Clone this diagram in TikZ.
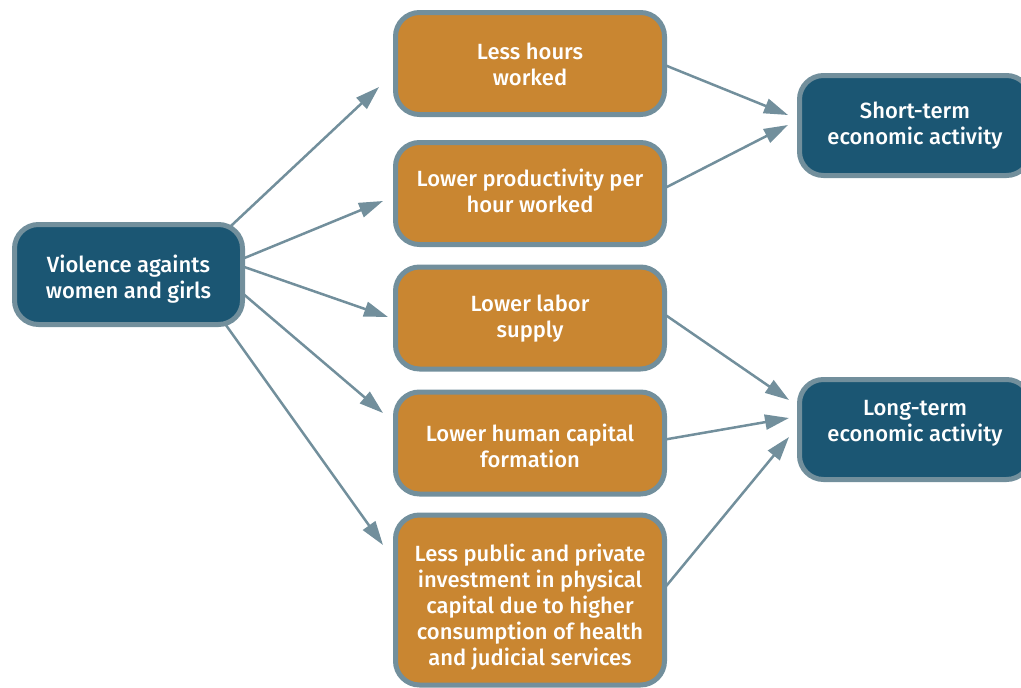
\documentclass[tikz,border=0pt]{standalone}
\usepackage{fontspec}
\setmainfont{Fira Sans}[BoldFont={Fira Sans Medium}]
\usetikzlibrary{arrows.meta,calc,backgrounds}
\definecolor{boxblue}{RGB}{27,86,115}
\definecolor{boxorange}{RGB}{201,134,49}
\definecolor{edgegray}{RGB}{114,143,156}
% centred block of lines, optionally nudged up/down without changing its size
\newcommand\boxlines[2][0pt]{\raisebox{#1}[\height][\depth]{\begin{tabular}{@{}c@{}}#2\end{tabular}}}
\begin{document}
\begin{tikzpicture}[x=1pt,y=-1pt,
  box/.style={draw=edgegray, line width=5pt, rounded corners=24pt, inner sep=0pt,
    text=white, font=\fontsize{22}{26}\selectfont\bfseries},
  bluebox/.style={box, fill=boxblue, minimum width=228pt, minimum height=100pt},
  orangebox/.style={box, fill=boxorange, minimum width=269pt, minimum height=102pt},
  arr/.style={draw=edgegray, line width=2.5pt, -{Triangle[length=24pt,width=15pt]}}]
\useasboundingbox (0,0) rectangle (1021,688);
\clip (0,0) rectangle (1021,688);

% cause
\node[bluebox] (L) at (128.5,274.5) {\boxlines[-5.3pt]{Violence againts\\women and girls}};

% channels
\node[orangebox] (n1) at (530,63.5) {\boxlines[-4pt]{Less hours\\worked}};
\node[orangebox] (n2) at (530,193.5) {\boxlines[-1pt]{Lower productivity per\\hour worked}};
\node[orangebox] (n3) at (530,318) {\boxlines[-1.5pt]{Lower labor\\supply}};
\node[orangebox] (n4) at (530,443) {\boxlines[-6pt]{Lower human capital\\formation}};
\node[orangebox, minimum height=170pt] (n5) at (530,600) {\boxlines[-8.5pt]{Less public and private\\investment in physical\\capital due to higher\\consumption of health\\and judicial services}};

% effects
\node[bluebox, minimum width=231pt] (S) at (915,125.5) {\boxlines[-0.6pt]{Short-term\\economic activity}};
\node[bluebox, minimum width=231pt] (G) at (915,429.5) {\boxlines[6.7pt]{Long-term\\economic activity}};

\begin{scope}[on background layer]
  \draw[arr] ($(L.center)+(92.5,-39.2)$) -- ($(n1.west)+(-14,23.5)$);
  \draw[arr] ($(L.center)+(104.6,-11.8)$) -- ($(n2.west)+(-10,7.5)$);
  \draw[arr] ($(L.center)+(104.3,-11.5)$) -- ($(n3.west)+(-5,-1)$);
  \draw[arr] ($(L.center)+(107,12.8)$) -- ($(n4.west)+(-10,-30)$);
  \draw[arr] ($(L.center)+(90.8,41.3)$) -- ($(n5.west)+(-10,-55)$);

  \draw[arr] ($(n1.east)+(-16,-4)$) -- ($(S.west)+(-9,-10.5)$);
  \draw[arr] ($(n2.east)+(-13.4,0.3)$) -- ($(S.west)+(-9,-0.5)$);
  \draw[arr] ($(n3.east)+(-12.4,-10.5)$) -- ($(G.west)+(-8,-29.5)$);
  \draw[arr] ($(n4.east)+(-14,-1.4)$) -- ($(G.west)+(-8,-11.5)$);
  \draw[arr] ($(n5.east)+(-9.5,-3.4)$) -- ($(G.west)+(-8,7.5)$);
\end{scope}
\end{tikzpicture}
\end{document}
